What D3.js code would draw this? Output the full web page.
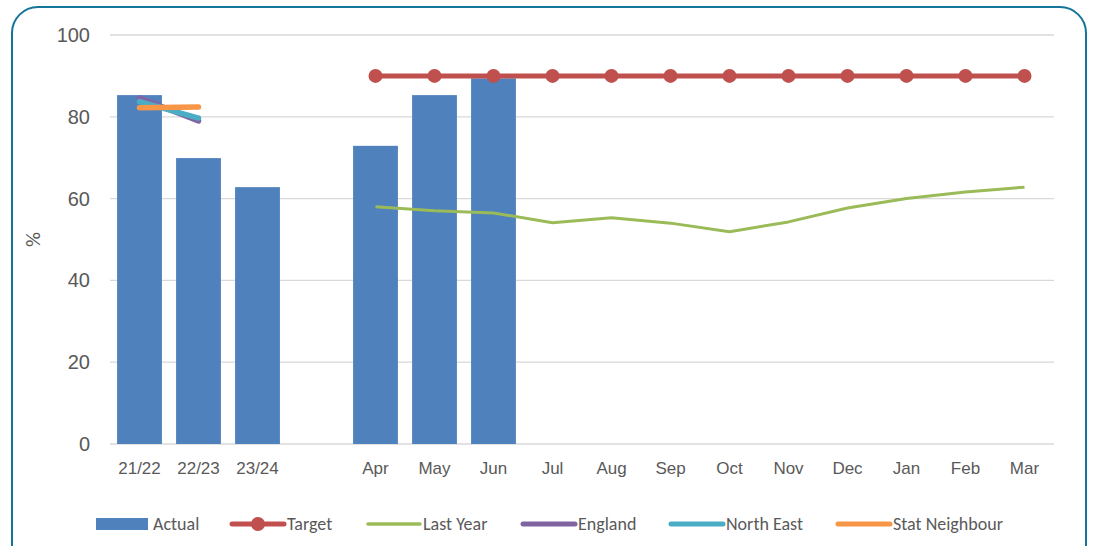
<!DOCTYPE html>
<html>
<head>
<meta charset="utf-8">
<script src="https://cdn.jsdelivr.net/npm/d3@7"></script>
<style>
  body { margin: 0; background: #fff; }
  svg { display: block; font-family: Calibri, Carlito, Lato, "Liberation Sans", sans-serif; }
</style>
</head>
<body>
<div id="chart"></div>
<script>
// ---------------- data ----------------
const categories = ["21/22", "22/23", "23/24", "", "Apr", "May", "Jun", "Jul", "Aug", "Sep", "Oct", "Nov", "Dec", "Jan", "Feb", "Mar"];
const actual = [85.3, 69.9, 62.8, null, 72.9, 85.3, 89.4, null, null, null, null, null, null, null, null, null];
const target = [null, null, null, null, 90, 90, 90, 90, 90, 90, 90, 90, 90, 90, 90, 90];
const lastYear = [null, null, null, null, 58.0, 57.0, 56.5, 54.1, 55.3, 54.0, 51.9, 54.3, 57.7, 60.0, 61.6, 62.8];
const england = [84.6, 79.0];
const northEast = [83.7, 79.7];
const statNeighbour = [82.2, 82.4];
const yTicks = [0, 20, 40, 60, 80, 100];

// ---------------- svg ----------------
const width = 1094, height = 546;
const margin = {left: 110, right: 40, top: 35, bottom: 102};

const svg = d3.select("#chart").append("svg")
    .attr("width", width)
    .attr("height", height);

// rounded border
svg.append("rect")
    .attr("x", 12).attr("y", 7)
    .attr("width", 1074).attr("height", 570)
    .attr("rx", 26).attr("ry", 26)
    .attr("fill", "none")
    .attr("stroke", "#137599")
    .attr("stroke-width", 2);

// ---------------- scales ----------------
const xScale = d3.scaleBand()
    .domain(d3.range(categories.length))
    .range([margin.left, width - margin.right])
    .paddingInner(0.24)
    .paddingOuter(0.12);

const yScale = d3.scaleLinear()
    .domain([0, 100])
    .range([height - margin.bottom, margin.top]);

const cx = i => xScale(i) + xScale.bandwidth() / 2;

// ---------------- grid + axes ----------------
svg.append("g")
    .selectAll("line")
    .data(yTicks)
    .enter().append("line")
    .attr("x1", margin.left).attr("x2", width - margin.right)
    .attr("y1", d => yScale(d)).attr("y2", d => yScale(d))
    .attr("stroke", "#d9d9d9")
    .attr("stroke-width", 1.3);

const yaxis = d3.axisLeft(yScale).tickValues(yTicks).tickSize(0).tickPadding(20);
svg.append("g")
    .attr("transform", "translate(" + margin.left + ",0)")
    .call(yaxis)
    .call(g => g.select(".domain").remove())
    .selectAll("text")
    .attr("fill", "#595959")
    .style("font-size", "20px");

const xaxis = d3.axisBottom(xScale).tickFormat(i => categories[i]).tickSize(0).tickPadding(18);
svg.append("g")
    .attr("transform", "translate(0," + (height - margin.bottom) + ")")
    .call(xaxis)
    .call(g => g.select(".domain").remove())
    .selectAll("text")
    .attr("fill", "#595959")
    .style("font-size", "17px");

svg.append("text")
    .attr("transform", "translate(40," + yScale(50) + ") rotate(-90)")
    .attr("text-anchor", "middle")
    .attr("fill", "#595959")
    .style("font-size", "21px")
    .text("%");

// ---------------- bars ----------------
const barData = actual.map((v, i) => ({i: i, v: v})).filter(d => d.v != null);
svg.append("g")
    .selectAll("rect")
    .data(barData)
    .enter().append("rect")
    .attr("x", d => xScale(d.i))
    .attr("width", xScale.bandwidth())
    .attr("y", d => yScale(d.v))
    .attr("height", d => yScale(0) - yScale(d.v))
    .attr("fill", "#4f81bd");

// ---------------- lines ----------------
const line = d3.line()
    .defined(d => d != null)
    .x((d, i) => cx(i))
    .y(d => yScale(d));

svg.append("path")
    .attr("d", line(lastYear))
    .attr("fill", "none")
    .attr("stroke", "#9bbb59")
    .attr("stroke-width", 3)
    .attr("stroke-linejoin", "round");

const shortSeries = [
    {values: england, color: "#8064a2"},
    {values: northEast, color: "#4bacc6"},
    {values: statNeighbour, color: "#f79646"}
];
svg.append("g")
    .selectAll("path")
    .data(shortSeries)
    .enter().append("path")
    .attr("d", d => line(d.values))
    .attr("fill", "none")
    .attr("stroke", d => d.color)
    .attr("stroke-width", 5.5)
    .attr("stroke-linecap", "round");

svg.append("path")
    .attr("d", line(target))
    .attr("fill", "none")
    .attr("stroke", "#c0504d")
    .attr("stroke-width", 5);

svg.append("g")
    .selectAll("circle")
    .data(target.map((v, i) => ({i: i, v: v})).filter(d => d.v != null))
    .enter().append("circle")
    .attr("cx", d => cx(d.i))
    .attr("cy", d => yScale(d.v))
    .attr("r", 7)
    .attr("fill", "#c0504d");

// ---------------- legend ----------------
const legendY = 524;
const legend = [
    {name: "Actual", type: "bar", color: "#4f81bd", x: 96},
    {name: "Target", type: "marker", color: "#c0504d", x: 230},
    {name: "Last Year", type: "line", color: "#9bbb59", x: 366},
    {name: "England", type: "line", color: "#8064a2", x: 521},
    {name: "North East", type: "line", color: "#4bacc6", x: 669},
    {name: "Stat Neighbour", type: "line", color: "#f79646", x: 836}
];
const lg = svg.append("g").selectAll("g").data(legend).enter().append("g")
    .attr("transform", d => "translate(" + d.x + "," + legendY + ")");

lg.filter(d => d.type === "bar").append("rect")
    .attr("x", 0).attr("y", -6).attr("width", 52).attr("height", 12)
    .attr("fill", d => d.color);

lg.filter(d => d.type !== "bar").append("line")
    .attr("x1", 2).attr("x2", 54)
    .attr("stroke", d => d.color)
    .attr("stroke-width", d => d.name === "Last Year" ? 3.5 : 5)
    .attr("stroke-linecap", "round");

lg.filter(d => d.type === "marker").append("circle")
    .attr("cx", 28).attr("r", 7)
    .attr("fill", d => d.color);

lg.append("text")
    .attr("x", 57).attr("dy", "0.35em")
    .attr("fill", "#595959")
    .style("font-size", "18px")
    .text(d => d.name);
</script>
</body>
</html>
